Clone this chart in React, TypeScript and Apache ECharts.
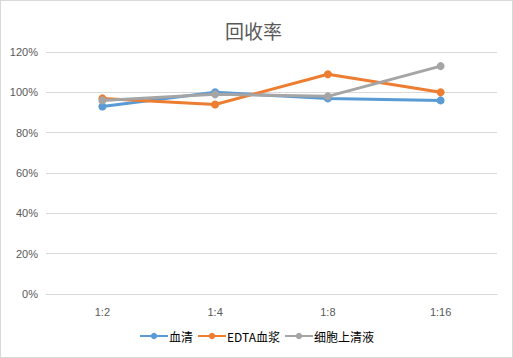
import React, { useEffect, useRef } from "react";
import * as echarts from "echarts";

const categories = ["1:2", "1:4", "1:8", "1:16"];
const serum = [0.93, 1.0, 0.97, 0.96];
const edtaPlasma = [0.97, 0.94, 1.09, 1.0];
const cellSupernatant = [0.96, 0.99, 0.98, 1.13];
const seriesNames = ["血清", "EDTA血浆", "细胞上清液"];
const colors = ["#5B9BD5", "#ED7D31", "#A5A5A5"];

export default function App() {
  const ref = useRef<HTMLDivElement>(null);
  useEffect(() => {
    document.body.style.margin = "0";
    const chart = echarts.init(ref.current!, null, { renderer: "svg" });
    const data = [serum, edtaPlasma, cellSupernatant];
    chart.setOption({
      animation: false,
      backgroundColor: "#fff",
      title: {
        text: "回收率",
        left: 219,
        top: 15,
        textStyle: { fontSize: 19, fontWeight: "normal", color: "#595959", fontFamily: "Noto Sans CJK SC" },
      },
      grid: { left: 45, right: 15, top: 51, bottom: 63 },
      legend: {
        bottom: 10,
        left: "center",
        itemWidth: 28,
        itemHeight: 8,
        itemGap: 4,
        textStyle: { fontSize: 12, color: "#000", fontFamily: "Noto Sans CJK SC", padding: [0, 0, 0, -4] },
        data: seriesNames,
      },
      xAxis: {
        type: "category",
        data: categories,
        boundaryGap: true,
        axisLine: { show: true, lineStyle: { color: "#D9D9D9" } },
        axisTick: { show: false },
        axisLabel: { color: "#595959", fontSize: 11, margin: 12 },
      },
      yAxis: {
        type: "value",
        min: 0,
        max: 1.2,
        interval: 0.2,
        axisLine: { show: false },
        axisTick: { show: false },
        splitLine: { lineStyle: { color: "#D9D9D9" } },
        axisLabel: {
          color: "#595959",
          fontSize: 11,
          margin: 8,
          formatter: (v: number) => Math.round(v * 100) + "%",
        },
      },
      series: seriesNames.map((name, i) => ({
        name,
        type: "line",
        data: data[i],
        symbol: "circle",
        symbolSize: 8,
        itemStyle: { color: colors[i] },
        lineStyle: { color: colors[i], width: 3 },
      })),
    });
    return () => chart.dispose();
  }, []);
  return (
    <div
      ref={ref}
      style={{
        position: "absolute",
        left: 0,
        top: 0,
        width: 511,
        height: 356,
        border: "1px solid #D9D9D9",
      }}
    />
  );
}
